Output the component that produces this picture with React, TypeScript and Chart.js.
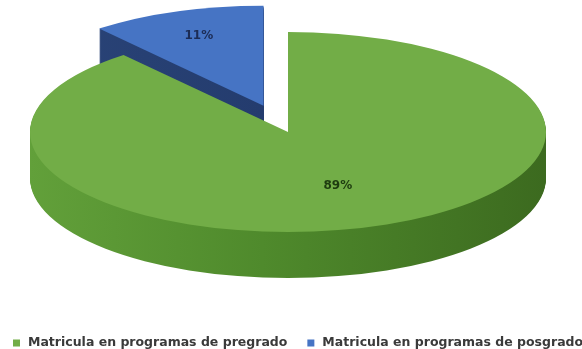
import React, { useEffect, useRef } from "react";
import { Chart, registerables } from "chart.js";

Chart.register(...registerables);

const categories = ["Matricula en programas de pregrado", "Matricula en programas de posgrado"];
const values = [89, 11];
const percentLabels = ["89%", "11%"];
const topColors = ["#72ad47", "#4674c4"];
const sideColorsLeft = ["#62a03a", "#2a4478"];
const sideColorsRight = ["#3c6a1f", "#1f3463"];
const labelColors = ["#1d3b0f", "#1c2c55"];
const offsets = [0, 28];

const CX = 288;
const CY = 132;
const RX = 258;
const RY = 100;
const DEPTH = 46;

const pie3d = {
  id: "pie3d",
  beforeDatasetsDraw(chart: any) {
    const ctx: CanvasRenderingContext2D = chart.ctx;
    const arcs = chart.getDatasetMeta(0).data as any[];
    if (!arcs.length) return false;
    const cx0 = arcs[0].x;
    const cy0 = arcs[0].y;
    const r = arcs[0].outerRadius;
    const sx = RX / r;
    const sy = RY / r;
    const order = [1, 0];
    for (const i of order) {
      const arc = arcs[i];
      const { x, y, startAngle, endAngle, outerRadius } = arc;
      const off = arc.options.offset || 0;
      const mid = (startAngle + endAngle) / 2;
      const px = x + Math.cos(mid) * off;
      const py = y + Math.sin(mid) * off;
      const path = () => {
        ctx.beginPath();
        ctx.moveTo(px, py);
        ctx.arc(px, py, outerRadius, startAngle, endAngle);
        ctx.closePath();
      };
      for (let d = DEPTH; d >= 1; d--) {
        ctx.save();
        ctx.translate(CX, CY + d);
        ctx.scale(sx, sy);
        ctx.translate(-cx0, -cy0);
        const g = ctx.createLinearGradient(cx0 - r, 0, cx0 + r, 0);
        g.addColorStop(0, sideColorsLeft[i]);
        g.addColorStop(0.45, i === 0 ? "#4f8a2c" : "#243c6e");
        g.addColorStop(1, sideColorsRight[i]);
        ctx.fillStyle = g;
        path();
        ctx.fill();
        ctx.restore();
      }
      ctx.save();
      ctx.translate(CX, CY);
      ctx.scale(sx, sy);
      ctx.translate(-cx0, -cy0);
      ctx.fillStyle = topColors[i];
      path();
      ctx.fill();
      ctx.restore();
    }
    return false;
  },
  afterDraw(chart: any) {
    const ctx: CanvasRenderingContext2D = chart.ctx;
    const arcs = chart.getDatasetMeta(0).data as any[];
    if (!arcs.length) return;
    const r = arcs[0].outerRadius;
    const sx = RX / r;
    const sy = RY / r;
    const labelRadius = [0.57, 0.74];
    ctx.save();
    ctx.font = "bold 12px 'DejaVu Sans', sans-serif";
    ctx.textAlign = "center";
    ctx.textBaseline = "middle";
    arcs.forEach((arc, i) => {
      const mid = (arc.startAngle + arc.endAngle) / 2;
      const off = arc.options.offset || 0;
      const rr = arc.outerRadius * labelRadius[i] + off;
      const lx = CX + Math.cos(mid) * rr * sx;
      const ly = CY + Math.sin(mid) * rr * sy;
      ctx.fillStyle = labelColors[i];
      ctx.fillText(percentLabels[i], lx, ly);
    });

    // legend
    ctx.font = "bold 12.5px 'DejaVu Sans', sans-serif";
    ctx.textAlign = "left";
    ctx.textBaseline = "middle";
    const ly = 343;
    let lx = 13;
    categories.forEach((label, i) => {
      ctx.fillStyle = topColors[i];
      ctx.fillRect(lx, ly - 3.5, 7, 7);
      ctx.fillStyle = "#3a3a3a";
      ctx.fillText(label, lx + 15, ly);
      lx += 15 + ctx.measureText(label).width + 20;
    });
    ctx.restore();
  },
};

export default function App() {
  const ref = useRef<HTMLCanvasElement | null>(null);
  useEffect(() => {
    document.body.style.margin = "0";
    const canvas = ref.current!;
    const chart = new Chart(canvas, {
      type: "pie",
      data: {
        labels: categories,
        datasets: [
          {
            data: values,
            backgroundColor: topColors,
            borderWidth: 0,
            offset: offsets,
          },
        ],
      },
      options: {
        responsive: false,
        animation: false,
        radius: 100,
        layout: { padding: 0 },
        plugins: {
          tooltip: { enabled: false },
          legend: { display: false },
        },
      } as any,
      plugins: [pie3d],
    });
    return () => chart.destroy();
  }, []);
  return (
    <div style={{ width: 582, height: 349, background: "#fff", overflow: "hidden" }}>
      <canvas ref={ref} width={582} height={349} style={{ display: "block" }} />
    </div>
  );
}
